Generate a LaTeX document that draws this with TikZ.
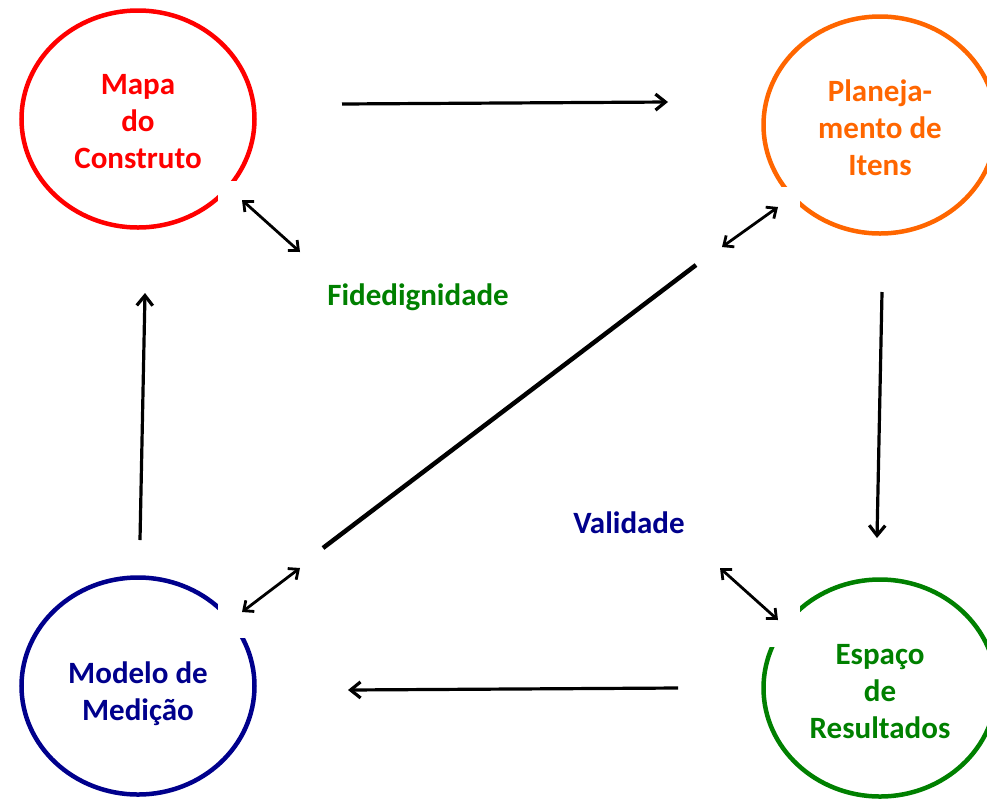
\documentclass[tikz,border=0pt]{standalone}
\usepackage{fontspec}
\setmainfont{Carlito}
\usetikzlibrary{shapes.geometric,arrows.meta}

\definecolor{mapared}{RGB}{255,0,0}
\definecolor{planorange}{RGB}{255,102,0}
\definecolor{modeloblue}{RGB}{0,0,140}
\definecolor{espacogreen}{RGB}{0,128,0}

\begin{document}
\begin{tikzpicture}[x=1pt,y=-1pt,
	phase/.style={ellipse,draw,line width=4.5pt,minimum width=233pt,minimum height=217pt,inner sep=0pt},
	phasetext/.style={align=center,font=\fontsize{31}{37}\selectfont\bfseries},
	flow/.style={line width=3.2pt,-{Straight Barb[length=10pt,width=16pt]}},
	link/.style={line width=2.8pt,{Straight Barb[length=8pt,width=14pt]}-{Straight Barb[length=8pt,width=14pt]}},
	cut/.style={fill=white,draw=none},
	tag/.style={anchor=base,font=\fontsize{31}{37}\selectfont\bfseries}]
	\useasboundingbox (0,0) rectangle (987,801);

	% the four phases
	\node[phase,draw=mapared] (mapa) at (138,119){};
	\node[phase,draw=planorange] (plan) at (880,125){};
	\node[phase,draw=modeloblue] (modelo) at (138,686){};
	\node[phase,draw=espacogreen] (espaco) at (880,688){};

	% gaps in the rims
	\fill[cut] (218,181) rectangle (300,262);
	\fill[cut] (700,187) rectangle (800,290);
	\fill[cut] (218,540) rectangle (323,638);
	\fill[cut] (700,540) rectangle (800,647);

	\node[phasetext,text=mapared] (mapaT) at ([yshift=-3pt]mapa.center){Mapa\\do\\Construto};
	\node[phasetext,text=planorange] (planT) at ([yshift=-3pt]plan.center){Planeja-\\mento de\\Itens};
	\node[phasetext,text=modeloblue] (modeloT) at ([yshift=-8pt]modelo.center){Modelo de\\Medição};
	\node[phasetext,text=espacogreen] (espacoT) at ([yshift=-4pt]espaco.center){Espaço\\de\\Resultados};

	\node[tag,text=espacogreen] (fide) at (418,305){Fidedignidade};
	\node[tag,text=modeloblue] (vali) at (629,533){Validade};

	% cycle
	\coordinate (mapaR) at (342,104);
	\coordinate (planL) at (668,102);
	\coordinate (planB) at (882,292);
	\coordinate (espacoN) at (877,538);
	\coordinate (espacoL) at (678,688);
	\coordinate (modeloR) at (348,690);
	\coordinate (modeloN) at (140,540);
	\coordinate (mapaB) at (145,293);
	\draw[flow] (mapaR) -- (planL);
	\draw[flow] (planB) -- (espacoN);
	\draw[flow] (espacoL) -- (modeloR);
	\draw[flow] (modeloN) -- (mapaB);

	% links to the middle
	\coordinate (mapaC) at (242,200);
	\coordinate (fideC) at (300,252);
	\coordinate (planC) at (778,207);
	\coordinate (planD) at (722,247);
	\coordinate (modeloC) at (242,612);
	\coordinate (modeloD) at (300,568);
	\coordinate (espacoC) at (778,620);
	\coordinate (valiC) at (720,568);
	\draw[link] (mapaC) -- (fideC);
	\draw[link] (planD) -- (planC);
	\draw[link] (modeloC) -- (modeloD);
	\draw[link] (valiC) -- (espacoC);

	\coordinate (diagA) at (323,548);
	\coordinate (diagB) at (696,265);
	\draw[line width=4.5pt] (diagA) -- (diagB);
\end{tikzpicture}
\end{document}
